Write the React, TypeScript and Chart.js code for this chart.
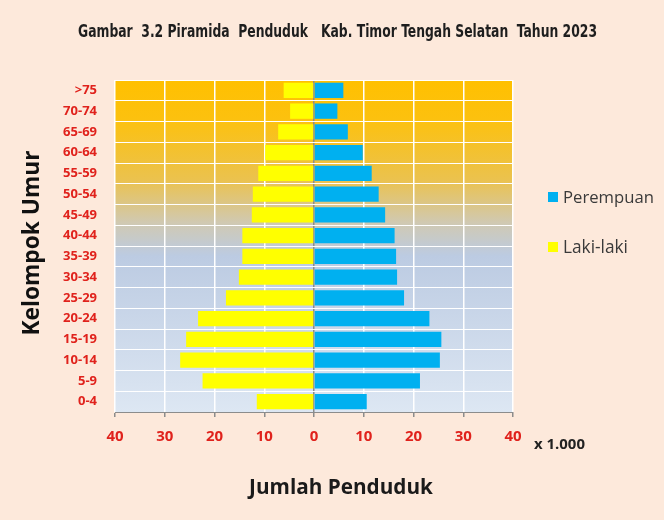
import React, { useEffect, useRef } from 'react';
import { Chart, registerables } from 'chart.js';

Chart.register(...registerables);

const titleText = 'Gambar  3.2 Piramida  Penduduk   Kab. Timor Tengah Selatan  Tahun 2023';
const ageGroups = ['>75', '70-74', '65-69', '60-64', '55-59', '50-54', '45-49', '40-44', '35-39', '30-34', '25-29', '20-24', '15-19', '10-14', '5-9', '0-4'];
const maleValues = [6.1, 4.8, 7.2, 9.8, 11.2, 12.3, 12.5, 14.4, 14.4, 15.1, 17.7, 23.3, 25.7, 26.9, 22.4, 11.5];
const femaleValues = [5.9, 4.7, 6.8, 9.8, 11.6, 13.0, 14.3, 16.2, 16.5, 16.7, 18.1, 23.2, 25.6, 25.3, 21.3, 10.6];
const seriesLabels = ['Perempuan', 'Laki-laki'];
const seriesColors = ['#00b0f0', '#ffff00'];
const xMin = -40;
const xMax = 40;
const xStep = 10;
const yTitle = 'Kelompok Umur';
const xTitle = 'Jumlah Penduduk';
const unitText = 'x 1.000';

function fitFont(ctx: CanvasRenderingContext2D, text: string, target: number, weight: string, family: string) {
  ctx.font = `${weight} 20px ${family}`;
  const w = ctx.measureText(text).width;
  const size = (20 * target) / w;
  ctx.font = `${weight} ${size}px ${family}`;
}

const decorPlugin = {
  id: 'decor',
  beforeDraw(chart: any) {
    const { ctx, chartArea: a } = chart;
    ctx.save();
    ctx.fillStyle = '#fde9db';
    ctx.fillRect(0, 0, chart.width, chart.height);
    const g = ctx.createLinearGradient(0, a.top, 0, a.bottom);
    g.addColorStop(0, '#ffc000');
    g.addColorStop(0.12, '#fcc10f');
    g.addColorStop(0.3, '#ebc24e');
    g.addColorStop(0.43, '#d0c9b2');
    g.addColorStop(0.53, '#bccbe2');
    g.addColorStop(1, '#dde7f3');
    ctx.fillStyle = g;
    ctx.fillRect(a.left, a.top, a.right - a.left, a.bottom - a.top);
    ctx.restore();
  },
  afterDraw(chart: any) {
    const { ctx } = chart;
    ctx.save();
    // title
    ctx.fillStyle = '#1e1e1e';
    ctx.textAlign = 'left';
    ctx.textBaseline = 'middle';
    ctx.font = 'bold 17px "DejaVu Sans Condensed", "Liberation Sans Narrow", sans-serif';
    ctx.fillText(titleText, 78, 33, 519);
    // y title
    ctx.save();
    ctx.translate(33, 243);
    ctx.rotate(-Math.PI / 2);
    ctx.textAlign = 'center';
    fitFont(ctx, yTitle, 185, 'bold', '"Open Sans", sans-serif');
    ctx.fillStyle = '#111';
    ctx.fillText(yTitle, 0, 0);
    ctx.restore();
    // x title
    ctx.textAlign = 'center';
    fitFont(ctx, xTitle, 184, 'bold', '"Open Sans", sans-serif');
    ctx.fillStyle = '#1a1a1a';
    ctx.fillText(xTitle, 341, 488);
    // unit
    ctx.textAlign = 'left';
    fitFont(ctx, unitText, 51, 'bold', '"Open Sans", sans-serif');
    ctx.fillStyle = '#222';
    ctx.fillText(unitText, 534, 445);
    // legend
    const items = chart.data.datasets.map((d: any, i: number) => ({ label: d.label, color: d.backgroundColor, y: i === 0 ? 197 : 247 }));
    items.forEach((it: any, i: number) => {
      ctx.fillStyle = it.color;
      ctx.fillRect(548, it.y - 5, 10, 10);
      ctx.fillStyle = '#3a3a3a';
      fitFont(ctx, it.label, i === 0 ? 91 : 65, 'normal', '"Open Sans", sans-serif');
      ctx.textAlign = 'left';
      ctx.fillText(it.label, 563, it.y + 1);
    });
    ctx.restore();
  },
};

export default function App() {
  const ref = useRef<HTMLCanvasElement | null>(null);
  useEffect(() => {
    if (!ref.current) return;
    const chart = new Chart(ref.current, {
      type: 'bar',
      data: {
        labels: ageGroups,
        datasets: [
          { label: seriesLabels[0], data: femaleValues, backgroundColor: seriesColors[0], borderWidth: 0 },
          { label: seriesLabels[1], data: maleValues.map((v) => -v), backgroundColor: seriesColors[1], borderWidth: 0 },
        ],
      },
      options: {
        indexAxis: 'y',
        responsive: false,
        animation: false,
        maintainAspectRatio: false,
        layout: { padding: { top: 80, right: 151, left: 0, bottom: 0 } },
        datasets: { bar: { barPercentage: 0.74, categoryPercentage: 1 } },
        plugins: { legend: { display: false }, tooltip: { enabled: false }, title: { display: false } },
        scales: {
          x: {
            stacked: true,
            min: xMin,
            max: xMax,
            ticks: {
              stepSize: xStep,
              callback: (v: any) => String(Math.abs(Number(v))),
              color: '#e0221c',
              font: { family: '"Open Sans", sans-serif', weight: 'bold', size: 15 },
              padding: 11,
            },
            grid: {
              color: (c: any) => (c.tick && c.tick.value === 0 ? '#8c8c8c' : '#ffffff'),
              lineWidth: 1.5,
              tickColor: '#8c8c8c',
              tickLength: 5,
            },
            border: { display: true, color: '#8c8c8c', width: 1 },
            afterFit: (s: any) => { s.height = 108; },
          },
          y: {
            stacked: true,
            ticks: {
              color: '#e0221c',
              font: { family: '"Open Sans", sans-serif', weight: 'bold', size: 13 },
              padding: 18,
            },
            grid: { color: '#ffffff', lineWidth: 1, drawTicks: false },
            border: { display: false },
            afterFit: (s: any) => { s.width = 115; },
          },
        },
      },
      plugins: [decorPlugin],
    });
    return () => chart.destroy();
  }, []);
  return (
    <div style={{ position: 'fixed', left: 0, top: 0, width: 664, height: 520 }}>
      <canvas ref={ref} width={664} height={520} />
    </div>
  );
}
